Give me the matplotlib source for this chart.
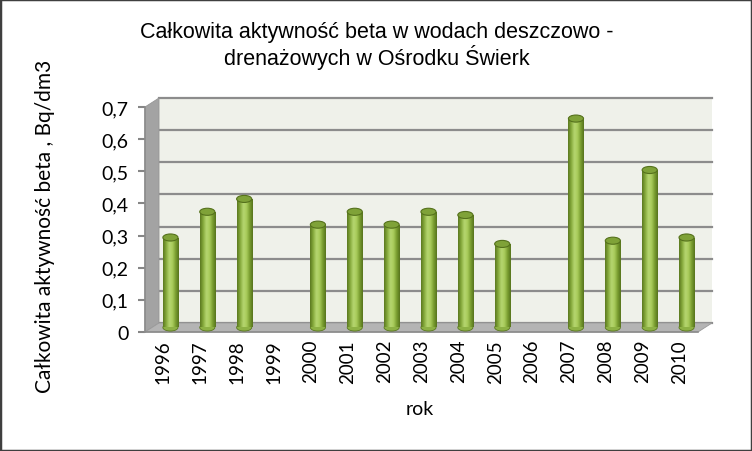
import numpy as np
import matplotlib.pyplot as plt
import matplotlib.colors as mcolors
from matplotlib.patches import Rectangle, Polygon, Ellipse
from matplotlib.transforms import ScaledTranslation

years = ['1996', '1997', '1998', '1999', '2000', '2001', '2002', '2003',
         '2004', '2005', '2006', '2007', '2008', '2009', '2010']
values = [0.28, 0.36, 0.40, np.nan, 0.32, 0.36, 0.32, 0.36,
          0.35, 0.26, np.nan, 0.65, 0.27, 0.49, 0.28]
yticks = [0, 0.1, 0.2, 0.3, 0.4, 0.5, 0.6, 0.7]
ytick_labels = ['0', '0,1', '0,2', '0,3', '0,4', '0,5', '0,6', '0,7']

plt.rcParams['font.family'] = ['Lato', 'DejaVu Sans']

fig = plt.figure(figsize=(7.52, 4.52), dpi=100)
ax = fig.add_axes([145 / 752, 119 / 452, 553 / 752, 225 / 452])
ax.set_facecolor('none')
x = np.arange(len(years))

# fake 3d: back wall shifted up-right, bars half way
back = ax.transData + ScaledTranslation(0.14, 0.09, fig.dpi_scale_trans)
mid = ax.transData + ScaledTranslation(0.07, 0.045, fig.dpi_scale_trans)
backA = ax.transAxes + ScaledTranslation(0.14, 0.09, fig.dpi_scale_trans)

ax.add_patch(Rectangle((0, 0), 1, 1, transform=backA, facecolor='#EFF1EA',
                       edgecolor='none', zorder=0, clip_on=False))
for t in yticks:
    ax.plot([-0.5, 14.5], [t, t], transform=back, color='#8C8C8C', lw=1.6,
            zorder=1, clip_on=False)

dx, dy = 14 / 553, 9 / 225
ax.add_patch(Polygon([(0, 0), (0, 1), (dx, 1 + dy), (dx, dy)], transform=ax.transAxes,
                     facecolor='#A3A3A3', edgecolor='#969696', lw=0.6, zorder=1.5, clip_on=False))
ax.add_patch(Polygon([(0, 0), (1, 0), (1 + dx, dy), (dx, dy)], transform=ax.transAxes,
                     facecolor='#B4B4B4', edgecolor='#9A9A9A', lw=0.6, zorder=1.5, clip_on=False))

width = 0.41
cmap = mcolors.LinearSegmentedColormap.from_list(
    'cyl', ['#5A781F', '#86AA3C', '#B6D670', '#A9CC5C', '#7A9E30', '#56731D'])
grad = np.linspace(0, 1, 64).reshape(1, -1)
bars = ax.bar(x, values, width, transform=mid, color='none', zorder=3)
for b, v in zip(bars, values):
    if np.isnan(v):
        continue
    x0 = b.get_x()
    xc = x0 + width / 2
    ax.add_patch(Ellipse((xc, 0), width, 0.022, transform=mid, facecolor='#8DB144',
                         edgecolor='#5A781F', lw=0.6, zorder=2.9))
    im = ax.imshow(grad, cmap=cmap, extent=[x0, x0 + width, 0, v], aspect='auto',
                   transform=mid, zorder=3, interpolation='bicubic')
    im.set_clip_path(b)
    ax.add_patch(Ellipse((xc, v), width, 0.022, transform=mid, facecolor='#7FA238',
                         edgecolor='#55711C', lw=0.8, zorder=4))

ax.set_xlim(-0.5, 14.5)
ax.set_ylim(0, 0.7)
ax.set_xticks(x, years, rotation=90, fontsize=13.5)
ax.set_yticks(yticks, ytick_labels, fontsize=14)
ax.tick_params(axis='x', length=0, pad=5)
ax.tick_params(axis='y', length=5, width=1.5, color='#868686', pad=7)
for s in ['top', 'right']:
    ax.spines[s].set_visible(False)
for s in ['left', 'bottom']:
    ax.spines[s].set_color('#8C8C8C')
    ax.spines[s].set_linewidth(1.2)

fig.text(377 / 752, 1 - 46 / 452,
         'Całkowita aktywność beta w wodach deszczowo -\ndrenażowych w Ośrodku Świerk',
         ha='center', va='center', fontsize=15.5, linespacing=1.1,
         family=['Liberation Sans', 'DejaVu Sans'])
fig.text(45 / 752, 1 - 226 / 452, 'Całkowita aktywność beta , Bq/dm3', rotation=90,
         ha='center', va='center', fontsize=15)
fig.text(420 / 752, 1 - 410 / 452, 'rok', ha='center', va='center', fontsize=14)

fig.add_artist(Rectangle((0, 0), 1, 1, transform=fig.transFigure, fill=False,
                         edgecolor='#3F3F3F', lw=2.5))

fig.savefig('out.png', dpi=100)
